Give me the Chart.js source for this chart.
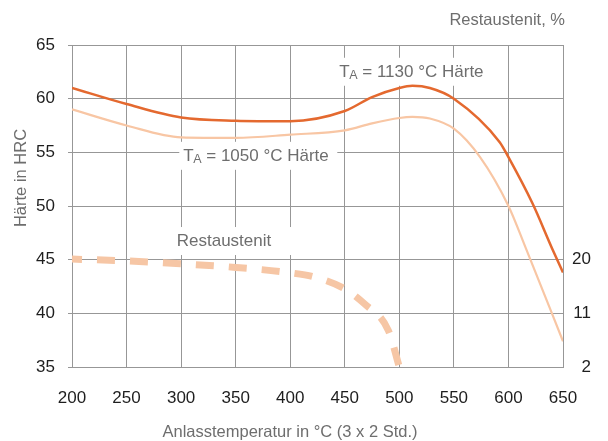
<!DOCTYPE html>
<html><head><meta charset="utf-8">
<script src="https://cdn.jsdelivr.net/npm/chart.js@4"></script>
<style>html,body{margin:0;padding:0;background:#fff}</style>
</head><body>
<canvas id="c" width="608" height="441" style="display:block;width:608px;height:441px"></canvas>
<script>
// ---- data ----
const xTicks = [200, 250, 300, 350, 400, 450, 500, 550, 600, 650];
const temps1130 = [200, 250, 300, 350, 400, 450, 475, 500, 512, 528, 550, 592, 600, 622, 640, 650];
const hard1130  = [61.0, 59.5, 58.25, 57.95, 57.9, 58.85, 60.15, 61.0, 61.2, 61.0, 60.0, 55.95, 54.55, 50.25, 46.05, 43.8];
const temps1050 = [200, 250, 300, 350, 400, 450, 475, 500, 512, 528, 550, 574, 600, 616, 650];
const hard1050  = [59.0, 57.5, 56.4, 56.35, 56.65, 57.05, 57.7, 58.2, 58.3, 58.15, 57.2, 54.55, 50.0, 46.05, 37.4];
const tempsRA   = [200, 250, 300, 350, 400, 422, 450, 468, 490, 500];
const restAust  = [20.1, 19.8, 19.3, 18.7, 17.8, 17.1, 15.1, 12.6, 8.1, 2.0];
const rightTicks = [2, 11, 20];
const noteMain = [' = 1130 °C Härte', ' = 1050 °C Härte', 'Restaustenit'];
const noteSub  = ['A', 'A', ''];
const noteX    = [445, 302, 296];
const noteY    = [62.6, 54.77, 46.83];

const FONT = '"Liberation Sans", Arial, Helvetica, sans-serif';
const GRAY = '#6e6e6e';
const GRID = '#979797';

const pts = (xs, ys) => xs.map((t, i) => ({x: t, y: ys[i]}));

const notes = {
  id: 'notes',
  beforeDatasetsDraw(chart) {
    const {ctx, scales: {x, y}} = chart;
    ctx.save();
    for (let i = 0; i < noteMain.length; i++) {
      const tx = x.getPixelForValue(noteX[i]);
      const cy = y.getPixelForValue(noteY[i]);
      const boxW = noteSub[i] ? 158 : 121;
      ctx.fillStyle = '#ffffff';
      ctx.fillRect(tx - 4, cy - 13, boxW, 28);
      ctx.fillStyle = GRAY;
      ctx.textBaseline = 'alphabetic';
      ctx.textAlign = 'left';
      const base = cy + 6;
      let cx = tx;
      if (noteSub[i]) {
        ctx.font = '17px ' + FONT;
        ctx.fillText('T', cx, base);
        cx += ctx.measureText('T').width - 0.5;
        ctx.font = '12.5px ' + FONT;
        ctx.fillText(noteSub[i], cx, base + 2.5);
        cx += ctx.measureText(noteSub[i]).width;
      }
      ctx.font = '17px ' + FONT;
      ctx.fillText(noteMain[i], cx, base);
    }
    ctx.restore();
  },
  afterDraw(chart) {
    const {ctx, chartArea: a} = chart;
    ctx.save();
    ctx.fillStyle = GRAY;
    ctx.font = '16.5px ' + FONT;
    ctx.textBaseline = 'alphabetic';
    // right axis unit title
    ctx.textAlign = 'right';
    ctx.fillText('Restaustenit, %', a.right + 2, 25);
    // x axis title
    ctx.textAlign = 'center';
    ctx.fillText('Anlasstemperatur in °C (3 x 2 Std.)', a.left + 218, 437);
    // y axis title
    ctx.translate(26, a.top + 133);
    ctx.rotate(-Math.PI / 2);
    ctx.fillText('Härte in HRC', 0, 0);
    ctx.restore();
  }
};

new Chart(document.getElementById('c'), {
  type: 'line',
  data: {
    datasets: [
      {label: 'TA = 1130 °C Härte', data: pts(temps1130, hard1130), yAxisID: 'y',
       borderColor: '#E4692F', borderWidth: 2.5, pointRadius: 0, cubicInterpolationMode: 'monotone', fill: false},
      {label: 'TA = 1050 °C Härte', data: pts(temps1050, hard1050), yAxisID: 'y',
       borderColor: '#F8C6A4', borderWidth: 2.2, pointRadius: 0, cubicInterpolationMode: 'monotone', fill: false},
      {label: 'Restaustenit', data: pts(tempsRA, restAust), yAxisID: 'y2',
       borderColor: '#F6C6A5', borderWidth: 7, borderDash: [18, 15], borderDashOffset: 8, borderCapStyle: 'butt',
       pointRadius: 0, cubicInterpolationMode: 'monotone', fill: false}
    ]
  },
  options: {
    responsive: false,
    animation: false,
    layout: {padding: {top: 45, right: 17, bottom: 0, left: 0}},
    plugins: {legend: {display: false}, tooltip: {enabled: false}, title: {display: false}},
    scales: {
      x: {
        type: 'linear', min: 200, max: 650,
        afterBuildTicks: s => { s.ticks = xTicks.map(v => ({value: v})); },
        afterFit: s => { s.height = 74; },
        grid: {color: GRID, lineWidth: 1, drawTicks: false},
        border: {color: GRID, width: 1},
        ticks: {padding: 21, color: '#1e1e1e', font: {family: FONT, size: 17}, maxRotation: 0, autoSkip: false}
      },
      y: {
        type: 'linear', position: 'left', min: 35, max: 65,
        ticks: {stepSize: 5, padding: 13, color: '#1e1e1e', font: {family: FONT, size: 17}},
        afterFit: s => { s.width = 72; },
        grid: {color: GRID, lineWidth: 1, tickLength: 4, drawTicks: true},
        border: {color: GRID, width: 1}
      },
      y2: {
        type: 'linear', position: 'right', min: 2, max: 56,
        afterBuildTicks: s => { s.ticks = rightTicks.map(v => ({value: v})); },
        afterFit: s => { s.width = 28; },
        grid: {display: false, drawTicks: false},
        border: {display: false},
        ticks: {padding: 0, crossAlign: 'far', color: '#1e1e1e', font: {family: FONT, size: 17}}
      }
    }
  },
  plugins: [notes]
});
</script>
</body></html>
